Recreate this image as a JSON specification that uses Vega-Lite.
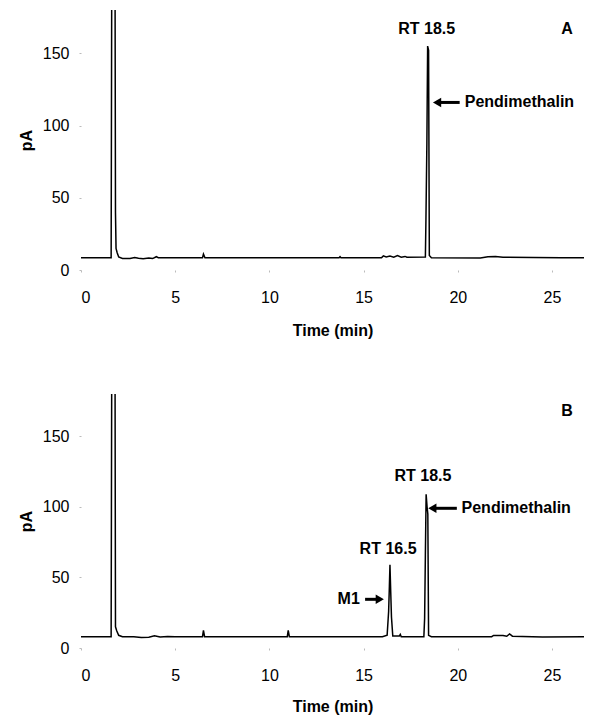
{
  "$schema": "https://vega.github.io/schema/vega-lite/v6.json",
  "background": "white",
  "padding": {"left": 18, "top": 10, "right": 5, "bottom": 5},
  "spacing": 56,
  "config": {
    "font": "Liberation Sans",
    "view": {"stroke": null},
    "axis": {
      "domain": false,
      "grid": false,
      "tickSize": 2,
      "tickColor": "#bbbbbb",
      "labelFontSize": 16,
      "labelColor": "black",
      "labelFont": "Liberation Sans",
      "titleFont": "Liberation Sans",
      "titleFontSize": 16,
      "titleFontWeight": "bold",
      "titleColor": "black"
    }
  },
  "datasets": {
    "chromA": [
      {"t": 0, "v": 8.5}, {"t": 1.6, "v": 8.5}, {"t": 1.64, "v": 250}, {"t": 1.8, "v": 250},
      {"t": 1.83, "v": 40}, {"t": 1.86, "v": 15}, {"t": 1.92, "v": 12}, {"t": 2.0, "v": 9},
      {"t": 2.2, "v": 8}, {"t": 2.6, "v": 8}, {"t": 2.85, "v": 8.6}, {"t": 3.05, "v": 8.1},
      {"t": 3.3, "v": 7.8}, {"t": 3.6, "v": 8.3}, {"t": 3.8, "v": 7.9}, {"t": 4.0, "v": 9.2},
      {"t": 4.1, "v": 8.5}, {"t": 6.45, "v": 8.5}, {"t": 6.5, "v": 11}, {"t": 6.58, "v": 8.5},
      {"t": 13.7, "v": 8.5}, {"t": 13.75, "v": 9.2}, {"t": 13.8, "v": 8.5}, {"t": 15.95, "v": 8.5},
      {"t": 16.05, "v": 9.8}, {"t": 16.2, "v": 9}, {"t": 16.4, "v": 9.6}, {"t": 16.6, "v": 8.9},
      {"t": 16.8, "v": 10}, {"t": 17.0, "v": 8.9}, {"t": 17.2, "v": 9.4}, {"t": 17.3, "v": 8.8},
      {"t": 18.28, "v": 9}, {"t": 18.31, "v": 35}, {"t": 18.36, "v": 88}, {"t": 18.4, "v": 155},
      {"t": 18.45, "v": 152}, {"t": 18.49, "v": 10}, {"t": 18.6, "v": 8.5}, {"t": 21.2, "v": 8.3},
      {"t": 21.6, "v": 9.2}, {"t": 22.0, "v": 9.3}, {"t": 22.4, "v": 8.9}, {"t": 24.0, "v": 8.7},
      {"t": 25.5, "v": 8.4}, {"t": 26.7, "v": 8.5}
    ],
    "chromB": [
      {"t": 0, "v": 8}, {"t": 1.6, "v": 8}, {"t": 1.64, "v": 250}, {"t": 1.8, "v": 250},
      {"t": 1.83, "v": 15}, {"t": 1.9, "v": 12}, {"t": 2.0, "v": 9}, {"t": 2.2, "v": 8},
      {"t": 2.8, "v": 8}, {"t": 3.2, "v": 7.5}, {"t": 3.6, "v": 7.6}, {"t": 3.9, "v": 8.6},
      {"t": 4.2, "v": 7.8}, {"t": 4.6, "v": 8.2}, {"t": 5.0, "v": 8}, {"t": 6.45, "v": 8},
      {"t": 6.5, "v": 12.5}, {"t": 6.56, "v": 8}, {"t": 10.95, "v": 8}, {"t": 11.0, "v": 12.5},
      {"t": 11.06, "v": 8}, {"t": 16.0, "v": 8}, {"t": 16.25, "v": 9}, {"t": 16.33, "v": 26},
      {"t": 16.37, "v": 44}, {"t": 16.4, "v": 59}, {"t": 16.44, "v": 40}, {"t": 16.48, "v": 22},
      {"t": 16.55, "v": 8.5}, {"t": 16.9, "v": 8.5}, {"t": 16.95, "v": 9.6}, {"t": 17.0, "v": 8},
      {"t": 18.2, "v": 8}, {"t": 18.24, "v": 21}, {"t": 18.28, "v": 66}, {"t": 18.32, "v": 109},
      {"t": 18.37, "v": 100}, {"t": 18.41, "v": 95}, {"t": 18.45, "v": 9}, {"t": 18.6, "v": 8},
      {"t": 21.8, "v": 8}, {"t": 21.9, "v": 8.9}, {"t": 22.4, "v": 8.9}, {"t": 22.6, "v": 8.3},
      {"t": 22.75, "v": 10}, {"t": 22.9, "v": 8.4}, {"t": 24.5, "v": 7.8}, {"t": 26.7, "v": 8}
    ],
    "centerA": [
      {"t": 18.35, "v": 167, "label": "RT 18.5"},
      {"t": 25.8, "v": 167, "label": "A"}
    ],
    "leftA": [{"t": 20.37, "v": 116, "label": "Pendimethalin"}],
    "shaftA": [{"t": 18.9, "t2": 20.1, "v": 116}],
    "headA": [{"t": 18.9, "v": 116}],
    "centerB": [
      {"t": 25.8, "v": 168, "label": "B"},
      {"t": 18.15, "v": 122, "label": "RT 18.5"},
      {"t": 16.3, "v": 70, "label": "RT 16.5"}
    ],
    "leftB": [{"t": 20.2, "v": 99, "label": "Pendimethalin"}],
    "rightB": [{"t": 14.8, "v": 34.5, "label": "M1"}],
    "shaftB": [
      {"t": 18.65, "t2": 19.95, "v": 99},
      {"t": 15.08, "t2": 15.86, "v": 34.5}
    ],
    "headLeftB": [{"t": 18.65, "v": 99}],
    "headRightB": [{"t": 15.86, "v": 34.5}]
  },
  "vconcat": [
    {
      "width": 503,
      "height": 260,
      "layer": [
        {
          "data": {"name": "chromA"},
          "mark": {"type": "line", "color": "black", "strokeWidth": 1.5, "clip": true},
          "encoding": {
            "x": {"field": "t", "type": "quantitative", "scale": {"domain": [0, 26.7], "nice": false}, "title": "Time (min)",
                  "axis": {"values": [0, 5, 10, 15, 20, 25], "labelPadding": 17, "titlePadding": 17, "labelFontSize": 16}},
            "y": {"field": "v", "type": "quantitative", "scale": {"domain": [0, 180], "nice": false}, "title": "pA",
                  "axis": {"values": [0, 50, 100, 150], "labelPadding": 10, "titlePadding": 8, "labelFontSize": 16}}
          }
        },
        {
          "data": {"name": "centerA"},
          "mark": {"type": "text", "fontSize": 16, "fontWeight": "bold", "align": "center", "baseline": "middle", "color": "black"},
          "encoding": {
            "x": {"field": "t", "type": "quantitative"},
            "y": {"field": "v", "type": "quantitative"},
            "text": {"field": "label"}
          }
        },
        {
          "data": {"name": "leftA"},
          "mark": {"type": "text", "fontSize": 16, "fontWeight": "bold", "align": "left", "baseline": "middle", "color": "black"},
          "encoding": {
            "x": {"field": "t", "type": "quantitative"},
            "y": {"field": "v", "type": "quantitative"},
            "text": {"field": "label"}
          }
        },
        {
          "data": {"name": "shaftA"},
          "mark": {"type": "rule", "strokeWidth": 3, "color": "black"},
          "encoding": {
            "x": {"field": "t", "type": "quantitative"},
            "x2": {"field": "t2"},
            "y": {"field": "v", "type": "quantitative"}
          }
        },
        {
          "data": {"name": "headA"},
          "mark": {"type": "point", "shape": "triangle-left", "filled": true, "size": 90, "color": "black", "opacity": 1},
          "encoding": {
            "x": {"field": "t", "type": "quantitative"},
            "y": {"field": "v", "type": "quantitative"}
          }
        }
      ]
    },
    {
      "width": 503,
      "height": 254,
      "layer": [
        {
          "data": {"name": "chromB"},
          "mark": {"type": "line", "color": "black", "strokeWidth": 1.5, "clip": true},
          "encoding": {
            "x": {"field": "t", "type": "quantitative", "scale": {"domain": [0, 26.7], "nice": false}, "title": "Time (min)",
                  "axis": {"values": [0, 5, 10, 15, 20, 25], "labelPadding": 17, "titlePadding": 15, "labelFontSize": 16}},
            "y": {"field": "v", "type": "quantitative", "scale": {"domain": [0, 180], "nice": false}, "title": "pA",
                  "axis": {"values": [0, 50, 100, 150], "labelPadding": 10, "titlePadding": 8, "labelFontSize": 16}}
          }
        },
        {
          "data": {"name": "centerB"},
          "mark": {"type": "text", "fontSize": 16, "fontWeight": "bold", "align": "center", "baseline": "middle", "color": "black"},
          "encoding": {
            "x": {"field": "t", "type": "quantitative"},
            "y": {"field": "v", "type": "quantitative"},
            "text": {"field": "label"}
          }
        },
        {
          "data": {"name": "leftB"},
          "mark": {"type": "text", "fontSize": 16, "fontWeight": "bold", "align": "left", "baseline": "middle", "color": "black"},
          "encoding": {
            "x": {"field": "t", "type": "quantitative"},
            "y": {"field": "v", "type": "quantitative"},
            "text": {"field": "label"}
          }
        },
        {
          "data": {"name": "rightB"},
          "mark": {"type": "text", "fontSize": 16, "fontWeight": "bold", "align": "right", "baseline": "middle", "color": "black"},
          "encoding": {
            "x": {"field": "t", "type": "quantitative"},
            "y": {"field": "v", "type": "quantitative"},
            "text": {"field": "label"}
          }
        },
        {
          "data": {"name": "shaftB"},
          "mark": {"type": "rule", "strokeWidth": 3, "color": "black"},
          "encoding": {
            "x": {"field": "t", "type": "quantitative"},
            "x2": {"field": "t2"},
            "y": {"field": "v", "type": "quantitative"}
          }
        },
        {
          "data": {"name": "headLeftB"},
          "mark": {"type": "point", "shape": "triangle-left", "filled": true, "size": 90, "color": "black", "opacity": 1},
          "encoding": {
            "x": {"field": "t", "type": "quantitative"},
            "y": {"field": "v", "type": "quantitative"}
          }
        },
        {
          "data": {"name": "headRightB"},
          "mark": {"type": "point", "shape": "triangle-right", "filled": true, "size": 90, "color": "black", "opacity": 1},
          "encoding": {
            "x": {"field": "t", "type": "quantitative"},
            "y": {"field": "v", "type": "quantitative"}
          }
        }
      ]
    }
  ]
}
